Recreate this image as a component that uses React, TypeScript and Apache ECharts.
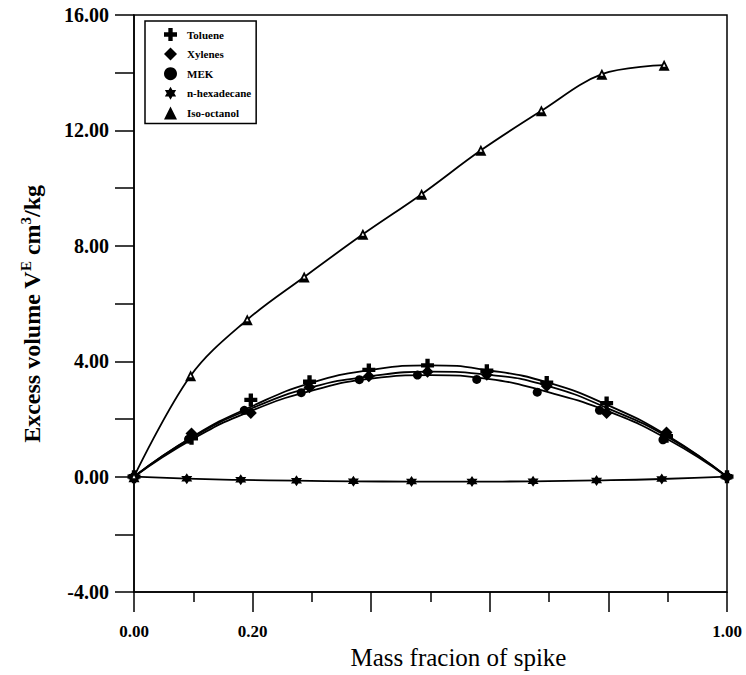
import React, { useEffect, useRef } from "react";
import * as echarts from "echarts";

const FONT = "'Liberation Serif', 'Times New Roman', serif";

// measured points: x = mass fraction of spike, y = excess volume (cm3/kg)
const tolueneX = [0, 0.097, 0.197, 0.296, 0.396, 0.495, 0.595, 0.696, 0.797, 0.898, 1.0];
const tolueneY = [0, 1.33, 2.66, 3.29, 3.7, 3.86, 3.67, 3.26, 2.55, 1.4, 0];

const xylenesX = [0, 0.097, 0.197, 0.296, 0.396, 0.495, 0.595, 0.696, 0.797, 0.898, 1.0];
const xylenesY = [0, 1.5, 2.21, 3.1, 3.48, 3.64, 3.53, 3.14, 2.21, 1.53, 0];

const mekX = [0, 0.092, 0.186, 0.282, 0.38, 0.478, 0.578, 0.68, 0.785, 0.892, 1.0];
const mekY = [0, 1.3, 2.3, 2.91, 3.36, 3.52, 3.37, 2.93, 2.3, 1.28, 0];

const hexadecaneX = [0, 0.089, 0.18, 0.274, 0.37, 0.468, 0.57, 0.673, 0.78, 0.89, 1.0];
const hexadecaneY = [0, -0.07, -0.11, -0.14, -0.16, -0.17, -0.17, -0.16, -0.13, -0.08, 0];

const isoOctanolX = [0, 0.0955, 0.191, 0.287, 0.386, 0.485, 0.585, 0.687, 0.789, 0.894];
const isoOctanolY = [0, 3.5, 5.44, 6.92, 8.4, 9.79, 11.31, 12.68, 13.95, 14.26];

// fitted curves as drawn in the figure
const curveX = [0, 0.1, 0.2, 0.3, 0.4, 0.5, 0.6, 0.7, 0.8, 0.9, 1.0];
const tolueneCurve = [0, 1.4, 2.45, 3.26, 3.7, 3.86, 3.68, 3.25, 2.47, 1.42, 0];
const xylenesCurve = [0, 1.38, 2.38, 3.1, 3.48, 3.64, 3.53, 3.13, 2.36, 1.38, 0];
const mekCurve = [0, 1.32, 2.3, 2.98, 3.4, 3.52, 3.38, 2.92, 2.26, 1.3, 0];

const seriesNames = ["Toluene", "Xylenes", "MEK", "n-hexadecane", "Iso-octanol"];
const xLabelValues = [0, 0.2, 1.0];

const CROSS = "path://M4,0H8V4H12V8H8V12H4V8H0V4H4Z";
const STAR =
  "path://M0,-10L2.89,-5L8.66,-5L5.77,0L8.66,5L2.89,5L0,10L-2.89,5L-8.66,5L-5.77,0L-8.66,-5L-2.89,-5Z";

const pairs = (xs: number[], ys: number[]) => xs.map((x, i) => [x, ys[i]]);

export default function App() {
  const ref = useRef<HTMLDivElement>(null);

  useEffect(() => {
    if (!ref.current) return;
    const chart = echarts.init(ref.current, null, { renderer: "svg" });

    const lineStyle = { color: "#000", width: 1.8 };
    const curve = (name: string, xs: number[], ys: number[], smooth: number) => ({
      type: "line",
      name,
      smooth,
      showSymbol: false,
      symbol: "none",
      lineStyle,
      z: 2,
      silent: true,
      data: pairs(xs, ys),
    });
    const marks = (
      name: string,
      symbol: string,
      size: number,
      xs: number[],
      ys: number[],
      color = "#000",
      z = 3
    ) => ({
      type: "scatter",
      name,
      symbol,
      symbolSize: size,
      itemStyle: { color, opacity: 1 },
      z,
      silent: true,
      data: pairs(xs, ys),
    });

    chart.setOption({
      animation: false,
      backgroundColor: "#fff",
      color: ["#000"],
      grid: {
        left: 134,
        right: 19,
        top: 15,
        bottom: 67,
        show: true,
        borderColor: "#000",
        borderWidth: 1.5,
        backgroundColor: "transparent",
      },
      legend: {
        orient: "vertical",
        left: 145,
        top: 21,
        padding: [7, 5, 4, 19],
        itemWidth: 13,
        itemHeight: 13,
        itemGap: 6.6,
        backgroundColor: "#fff",
        borderColor: "#000",
        borderWidth: 1.5,
        selectedMode: false,
        textStyle: {
          fontFamily: FONT,
          fontWeight: "bold",
          fontSize: 11,
          color: "#000",
          padding: [0, 0, 0, 5],
        },
        data: [
          { name: seriesNames[0], icon: CROSS },
          { name: seriesNames[1], icon: "diamond" },
          { name: seriesNames[2], icon: "circle" },
          { name: seriesNames[3], icon: STAR },
          { name: seriesNames[4], icon: "triangle" },
        ],
      },
      graphic: [
        {
          type: "text",
          x: 32,
          y: 314,
          rotation: Math.PI / 2,
          silent: true,
          style: {
            text: "Excess volume V{sup|E} cm{sup|3}/kg",
            fontFamily: FONT,
            fontWeight: "bold",
            fontSize: 24,
            fill: "#000",
            align: "center",
            verticalAlign: "middle",
            rich: {
              sup: {
                fontFamily: FONT,
                fontWeight: "bold",
                fontSize: 15,
                fill: "#000",
                padding: [0, 0, 12, 0],
              },
            },
          },
        },
      ],
      xAxis: {
        type: "value",
        min: 0,
        max: 1,
        interval: 0.2,
        name: "Mass fracion of spike",
        nameLocation: "middle",
        nameGap: 36,
        nameTextStyle: {
          fontFamily: FONT,
          fontSize: 25,
          color: "#000",
          padding: [0, 0, 0, 56],
        },
        axisLine: { show: true, onZero: false, lineStyle: { color: "#000", width: 1.5 } },
        axisTick: { show: true, length: 20, lineStyle: { color: "#000", width: 1.5 } },
        minorTick: { show: true, splitNumber: 2, length: 10, lineStyle: { color: "#000", width: 1.5 } },
        splitLine: { show: false },
        axisLabel: {
          margin: 31,
          fontFamily: FONT,
          fontWeight: "bold",
          fontSize: 17,
          color: "#000",
          showMaxLabel: true,
          formatter: (v: number) =>
            xLabelValues.some((t) => Math.abs(t - v) < 1e-9) ? v.toFixed(2) : "",
        },
      },
      yAxis: {
        type: "value",
        min: -4,
        max: 16,
        interval: 2,
        axisLine: { show: true, onZero: false, lineStyle: { color: "#000", width: 1.5 } },
        axisTick: { show: true, length: 19, lineStyle: { color: "#000", width: 1.5 } },
        splitLine: { show: false },
        axisLabel: {
          margin: 25,
          fontFamily: FONT,
          fontWeight: "bold",
          fontSize: 20,
          color: "#000",
          showMaxLabel: true,
          formatter: (v: number) => (Math.round(v) % 4 === 0 ? v.toFixed(2) : ""),
        },
      },
      series: [
        curve("Toluene curve", curveX, tolueneCurve, 0.5),
        curve("Xylenes curve", curveX, xylenesCurve, 0.5),
        curve("MEK curve", curveX, mekCurve, 0.5),
        curve("n-hexadecane curve", hexadecaneX, hexadecaneY, 0.5),
        curve("Iso-octanol curve", isoOctanolX, isoOctanolY, 0.35),
        marks(seriesNames[0], CROSS, 13, tolueneX, tolueneY),
        marks(seriesNames[1], "diamond", 12, xylenesX, xylenesY),
        marks(seriesNames[2], "circle", 9, mekX, mekY),
        marks(seriesNames[3], STAR, 11, hexadecaneX, hexadecaneY),
        marks(seriesNames[4], "triangle", 11, isoOctanolX, isoOctanolY),
        marks("Iso-octanol centre", "triangle", 3, isoOctanolX, isoOctanolY, "#fff", 4),
      ],
    });

    return () => chart.dispose();
  }, []);

  return (
    <div
      ref={ref}
      style={{ position: "absolute", left: 0, top: 0, width: 746, height: 675 }}
    />
  );
}
